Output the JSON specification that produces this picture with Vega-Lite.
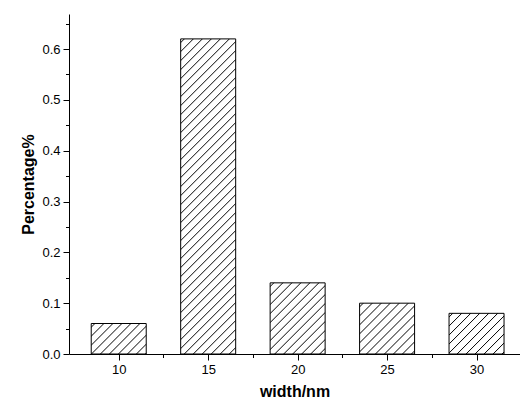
{
  "$schema": "https://vega.github.io/schema/vega-lite/v6.json",
  "width": 451,
  "height": 340,
  "autosize": "none",
  "padding": {"left": 69, "top": 14, "right": 0, "bottom": 50},
  "background": "white",
  "config": {
    "view": {"stroke": null},
    "font": "Liberation Sans",
    "axis": {
      "grid": false,
      "domainColor": "#000",
      "tickColor": "#000",
      "labelColor": "#000",
      "titleColor": "#000",
      "labelFont": "Liberation Sans",
      "titleFont": "Liberation Sans",
      "labelFontSize": 13,
      "titleFontSize": 16,
      "titleFontWeight": "bold",
      "labelFlush": false,
      "labelOverlap": false
    }
  },
  "data": {
    "values": [
      {"width": 10, "pct": 0.06},
      {"width": 15, "pct": 0.62},
      {"width": 20, "pct": 0.14},
      {"width": 25, "pct": 0.10},
      {"width": 30, "pct": 0.08}
    ]
  },
  "layer": [
    {
      "encoding": {
        "x": {
          "field": "width", "type": "quantitative",
          "scale": {"domain": [7.5, 32.15], "nice": false, "zero": false},
          "axis": {"values": [10, 15, 20, 25, 30], "title": "width/nm", "tickSize": 6, "labelPadding": 3, "titlePadding": 7, "orient": "bottom"}
        },
        "y": {
          "field": "pct", "type": "quantitative",
          "scale": {"domain": [0, 0.669], "nice": false},
          "axis": {"values": [0, 0.1, 0.2, 0.3, 0.4, 0.5, 0.6], "format": ".1f", "title": "Percentage%", "tickSize": 6, "labelPadding": 3, "titlePadding": 5, "orient": "left"}
        }
      },
      "layer": [
        {
          "transform": [{"filter": "datum.width == 10"}],
          "mark": {"type": "bar", "width": 55, "stroke": "#000", "strokeWidth": 1,
            "fill": {"gradient": "linear", "x1": 0, "y1": 0, "x2": 12.517, "y2": 6.939, "stops": [
              {"offset":0.003,"color":"#fff"},{"offset":0.0041,"color":"#000"},{"offset":0.0052,"color":"#fff"},
              {"offset":0.013,"color":"#fff"},{"offset":0.0141,"color":"#000"},{"offset":0.0152,"color":"#fff"},
              {"offset":0.023,"color":"#fff"},{"offset":0.0241,"color":"#000"},{"offset":0.0252,"color":"#fff"},
              {"offset":0.033,"color":"#fff"},{"offset":0.0341,"color":"#000"},{"offset":0.0352,"color":"#fff"},
              {"offset":0.043,"color":"#fff"},{"offset":0.0441,"color":"#000"},{"offset":0.0452,"color":"#fff"},
              {"offset":0.053,"color":"#fff"},{"offset":0.0541,"color":"#000"},{"offset":0.0552,"color":"#fff"},
              {"offset":0.063,"color":"#fff"},{"offset":0.0641,"color":"#000"},{"offset":0.0652,"color":"#fff"},
              {"offset":0.073,"color":"#fff"},{"offset":0.0741,"color":"#000"},{"offset":0.0752,"color":"#fff"},
              {"offset":0.083,"color":"#fff"},{"offset":0.0841,"color":"#000"},{"offset":0.0852,"color":"#fff"},
              {"offset":0.093,"color":"#fff"},{"offset":0.0941,"color":"#000"},{"offset":0.0952,"color":"#fff"}
            ]}}
        },
        {
          "transform": [{"filter": "datum.width == 15"}],
          "mark": {"type": "bar", "width": 55, "stroke": "#000", "strokeWidth": 1,
            "fill": {"gradient": "linear", "x1": 0, "y1": 0, "x2": 0.48381, "y2": 2.7718, "stops": [
              {"offset":0.003,"color":"#fff"},{"offset":0.0041,"color":"#000"},{"offset":0.0052,"color":"#fff"},
              {"offset":0.013,"color":"#fff"},{"offset":0.0141,"color":"#000"},{"offset":0.0152,"color":"#fff"},
              {"offset":0.023,"color":"#fff"},{"offset":0.0241,"color":"#000"},{"offset":0.0252,"color":"#fff"},
              {"offset":0.033,"color":"#fff"},{"offset":0.0341,"color":"#000"},{"offset":0.0352,"color":"#fff"},
              {"offset":0.043,"color":"#fff"},{"offset":0.0441,"color":"#000"},{"offset":0.0452,"color":"#fff"},
              {"offset":0.053,"color":"#fff"},{"offset":0.0541,"color":"#000"},{"offset":0.0552,"color":"#fff"},
              {"offset":0.063,"color":"#fff"},{"offset":0.0641,"color":"#000"},{"offset":0.0652,"color":"#fff"},
              {"offset":0.073,"color":"#fff"},{"offset":0.0741,"color":"#000"},{"offset":0.0752,"color":"#fff"},
              {"offset":0.083,"color":"#fff"},{"offset":0.0841,"color":"#000"},{"offset":0.0852,"color":"#fff"},
              {"offset":0.093,"color":"#fff"},{"offset":0.0941,"color":"#000"},{"offset":0.0952,"color":"#fff"},
              {"offset":0.103,"color":"#fff"},{"offset":0.1041,"color":"#000"},{"offset":0.1052,"color":"#fff"},
              {"offset":0.113,"color":"#fff"},{"offset":0.1141,"color":"#000"},{"offset":0.1152,"color":"#fff"},
              {"offset":0.123,"color":"#fff"},{"offset":0.1241,"color":"#000"},{"offset":0.1252,"color":"#fff"},
              {"offset":0.133,"color":"#fff"},{"offset":0.1341,"color":"#000"},{"offset":0.1352,"color":"#fff"},
              {"offset":0.143,"color":"#fff"},{"offset":0.1441,"color":"#000"},{"offset":0.1452,"color":"#fff"},
              {"offset":0.153,"color":"#fff"},{"offset":0.1541,"color":"#000"},{"offset":0.1552,"color":"#fff"},
              {"offset":0.163,"color":"#fff"},{"offset":0.1641,"color":"#000"},{"offset":0.1652,"color":"#fff"},
              {"offset":0.173,"color":"#fff"},{"offset":0.1741,"color":"#000"},{"offset":0.1752,"color":"#fff"},
              {"offset":0.183,"color":"#fff"},{"offset":0.1841,"color":"#000"},{"offset":0.1852,"color":"#fff"},
              {"offset":0.193,"color":"#fff"},{"offset":0.1941,"color":"#000"},{"offset":0.1952,"color":"#fff"},
              {"offset":0.203,"color":"#fff"},{"offset":0.2041,"color":"#000"},{"offset":0.2052,"color":"#fff"},
              {"offset":0.213,"color":"#fff"},{"offset":0.2141,"color":"#000"},{"offset":0.2152,"color":"#fff"},
              {"offset":0.223,"color":"#fff"},{"offset":0.2241,"color":"#000"},{"offset":0.2252,"color":"#fff"},
              {"offset":0.233,"color":"#fff"},{"offset":0.2341,"color":"#000"},{"offset":0.2352,"color":"#fff"},
              {"offset":0.243,"color":"#fff"},{"offset":0.2441,"color":"#000"},{"offset":0.2452,"color":"#fff"},
              {"offset":0.253,"color":"#fff"},{"offset":0.2541,"color":"#000"},{"offset":0.2552,"color":"#fff"},
              {"offset":0.263,"color":"#fff"},{"offset":0.2641,"color":"#000"},{"offset":0.2652,"color":"#fff"},
              {"offset":0.273,"color":"#fff"},{"offset":0.2741,"color":"#000"},{"offset":0.2752,"color":"#fff"},
              {"offset":0.283,"color":"#fff"},{"offset":0.2841,"color":"#000"},{"offset":0.2852,"color":"#fff"},
              {"offset":0.293,"color":"#fff"},{"offset":0.2941,"color":"#000"},{"offset":0.2952,"color":"#fff"},
              {"offset":0.303,"color":"#fff"},{"offset":0.3041,"color":"#000"},{"offset":0.3052,"color":"#fff"},
              {"offset":0.313,"color":"#fff"},{"offset":0.3141,"color":"#000"},{"offset":0.3152,"color":"#fff"},
              {"offset":0.323,"color":"#fff"},{"offset":0.3241,"color":"#000"},{"offset":0.3252,"color":"#fff"},
              {"offset":0.333,"color":"#fff"},{"offset":0.3341,"color":"#000"},{"offset":0.3352,"color":"#fff"},
              {"offset":0.343,"color":"#fff"},{"offset":0.3441,"color":"#000"},{"offset":0.3452,"color":"#fff"},
              {"offset":0.353,"color":"#fff"},{"offset":0.3541,"color":"#000"},{"offset":0.3552,"color":"#fff"},
              {"offset":0.363,"color":"#fff"},{"offset":0.3641,"color":"#000"},{"offset":0.3652,"color":"#fff"},
              {"offset":0.373,"color":"#fff"},{"offset":0.3741,"color":"#000"},{"offset":0.3752,"color":"#fff"},
              {"offset":0.383,"color":"#fff"},{"offset":0.3841,"color":"#000"},{"offset":0.3852,"color":"#fff"},
              {"offset":0.393,"color":"#fff"},{"offset":0.3941,"color":"#000"},{"offset":0.3952,"color":"#fff"},
              {"offset":0.403,"color":"#fff"},{"offset":0.4041,"color":"#000"},{"offset":0.4052,"color":"#fff"}
            ]}}
        },
        {
          "transform": [{"filter": "datum.width == 20"}],
          "mark": {"type": "bar", "width": 55, "stroke": "#000", "strokeWidth": 1,
            "fill": {"gradient": "linear", "x1": 0, "y1": 0, "x2": 6.1207, "y2": 7.918, "stops": [
              {"offset":0.003,"color":"#fff"},{"offset":0.0041,"color":"#000"},{"offset":0.0052,"color":"#fff"},
              {"offset":0.013,"color":"#fff"},{"offset":0.0141,"color":"#000"},{"offset":0.0152,"color":"#fff"},
              {"offset":0.023,"color":"#fff"},{"offset":0.0241,"color":"#000"},{"offset":0.0252,"color":"#fff"},
              {"offset":0.033,"color":"#fff"},{"offset":0.0341,"color":"#000"},{"offset":0.0352,"color":"#fff"},
              {"offset":0.043,"color":"#fff"},{"offset":0.0441,"color":"#000"},{"offset":0.0452,"color":"#fff"},
              {"offset":0.053,"color":"#fff"},{"offset":0.0541,"color":"#000"},{"offset":0.0552,"color":"#fff"},
              {"offset":0.063,"color":"#fff"},{"offset":0.0641,"color":"#000"},{"offset":0.0652,"color":"#fff"},
              {"offset":0.073,"color":"#fff"},{"offset":0.0741,"color":"#000"},{"offset":0.0752,"color":"#fff"},
              {"offset":0.083,"color":"#fff"},{"offset":0.0841,"color":"#000"},{"offset":0.0852,"color":"#fff"},
              {"offset":0.093,"color":"#fff"},{"offset":0.0941,"color":"#000"},{"offset":0.0952,"color":"#fff"},
              {"offset":0.103,"color":"#fff"},{"offset":0.1041,"color":"#000"},{"offset":0.1052,"color":"#fff"},
              {"offset":0.113,"color":"#fff"},{"offset":0.1141,"color":"#000"},{"offset":0.1152,"color":"#fff"},
              {"offset":0.123,"color":"#fff"},{"offset":0.1241,"color":"#000"},{"offset":0.1252,"color":"#fff"},
              {"offset":0.133,"color":"#fff"},{"offset":0.1341,"color":"#000"},{"offset":0.1352,"color":"#fff"}
            ]}}
        },
        {
          "transform": [{"filter": "datum.width == 25"}],
          "mark": {"type": "bar", "width": 55, "stroke": "#000", "strokeWidth": 1,
            "fill": {"gradient": "linear", "x1": 0, "y1": 0, "x2": 8.8272, "y2": 8.1563, "stops": [
              {"offset":0.003,"color":"#fff"},{"offset":0.0041,"color":"#000"},{"offset":0.0052,"color":"#fff"},
              {"offset":0.013,"color":"#fff"},{"offset":0.0141,"color":"#000"},{"offset":0.0152,"color":"#fff"},
              {"offset":0.023,"color":"#fff"},{"offset":0.0241,"color":"#000"},{"offset":0.0252,"color":"#fff"},
              {"offset":0.033,"color":"#fff"},{"offset":0.0341,"color":"#000"},{"offset":0.0352,"color":"#fff"},
              {"offset":0.043,"color":"#fff"},{"offset":0.0441,"color":"#000"},{"offset":0.0452,"color":"#fff"},
              {"offset":0.053,"color":"#fff"},{"offset":0.0541,"color":"#000"},{"offset":0.0552,"color":"#fff"},
              {"offset":0.063,"color":"#fff"},{"offset":0.0641,"color":"#000"},{"offset":0.0652,"color":"#fff"},
              {"offset":0.073,"color":"#fff"},{"offset":0.0741,"color":"#000"},{"offset":0.0752,"color":"#fff"},
              {"offset":0.083,"color":"#fff"},{"offset":0.0841,"color":"#000"},{"offset":0.0852,"color":"#fff"},
              {"offset":0.093,"color":"#fff"},{"offset":0.0941,"color":"#000"},{"offset":0.0952,"color":"#fff"},
              {"offset":0.103,"color":"#fff"},{"offset":0.1041,"color":"#000"},{"offset":0.1052,"color":"#fff"},
              {"offset":0.113,"color":"#fff"},{"offset":0.1141,"color":"#000"},{"offset":0.1152,"color":"#fff"}
            ]}}
        },
        {
          "transform": [{"filter": "datum.width == 30"}],
          "mark": {"type": "bar", "width": 55, "stroke": "#000", "strokeWidth": 1,
            "fill": {"gradient": "linear", "x1": 0, "y1": 0, "x2": 10.581, "y2": 7.8222, "stops": [
              {"offset":0.003,"color":"#fff"},{"offset":0.0041,"color":"#000"},{"offset":0.0052,"color":"#fff"},
              {"offset":0.013,"color":"#fff"},{"offset":0.0141,"color":"#000"},{"offset":0.0152,"color":"#fff"},
              {"offset":0.023,"color":"#fff"},{"offset":0.0241,"color":"#000"},{"offset":0.0252,"color":"#fff"},
              {"offset":0.033,"color":"#fff"},{"offset":0.0341,"color":"#000"},{"offset":0.0352,"color":"#fff"},
              {"offset":0.043,"color":"#fff"},{"offset":0.0441,"color":"#000"},{"offset":0.0452,"color":"#fff"},
              {"offset":0.053,"color":"#fff"},{"offset":0.0541,"color":"#000"},{"offset":0.0552,"color":"#fff"},
              {"offset":0.063,"color":"#fff"},{"offset":0.0641,"color":"#000"},{"offset":0.0652,"color":"#fff"},
              {"offset":0.073,"color":"#fff"},{"offset":0.0741,"color":"#000"},{"offset":0.0752,"color":"#fff"},
              {"offset":0.083,"color":"#fff"},{"offset":0.0841,"color":"#000"},{"offset":0.0852,"color":"#fff"},
              {"offset":0.093,"color":"#fff"},{"offset":0.0941,"color":"#000"},{"offset":0.0952,"color":"#fff"},
              {"offset":0.103,"color":"#fff"},{"offset":0.1041,"color":"#000"},{"offset":0.1052,"color":"#fff"}
            ]}}
        }
      ]
    },
    {
      "mark": {"type": "point", "opacity": 0},
      "encoding": {
        "x": {
          "field": "width", "type": "quantitative",
          "scale": {"domain": [7.5, 32.15], "nice": false, "zero": false},
          "axis": {"values": [12.5, 17.5, 22.5, 27.5], "tickSize": 3.5, "labels": false, "domain": false, "title": null, "orient": "bottom"}
        },
        "y": {
          "field": "pct", "type": "quantitative",
          "scale": {"domain": [0, 0.669], "nice": false},
          "axis": {"values": [0.05, 0.15, 0.25, 0.35, 0.45, 0.55, 0.65], "tickSize": 3.5, "labels": false, "domain": false, "title": null, "orient": "left"}
        }
      }
    }
  ],
  "resolve": {"axis": {"x": "independent", "y": "independent"}}
}
